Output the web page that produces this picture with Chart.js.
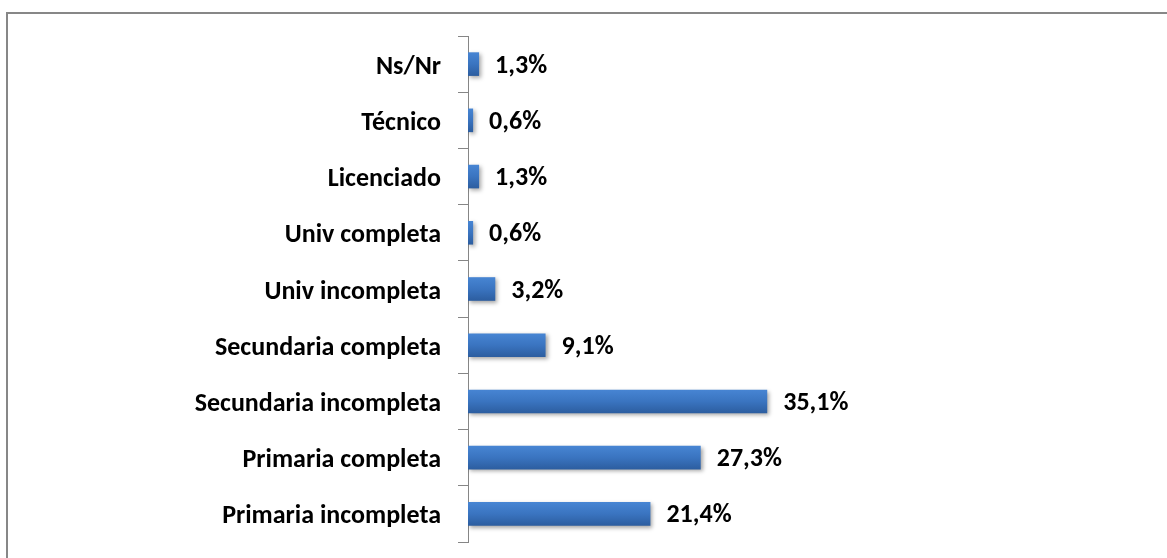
<!DOCTYPE html>
<html>
<head>
<meta charset="utf-8">
<script src="https://cdn.jsdelivr.net/npm/chart.js@4/dist/chart.umd.min.js"></script>
<style>
html,body{margin:0;padding:0;background:#fff;}
#wrap{position:relative;width:1167px;height:558px;}
</style>
</head>
<body>
<div id="wrap"><canvas id="c" width="1167" height="558"></canvas></div>
<script>
const categories = ["Ns/Nr","Técnico","Licenciado","Univ completa","Univ incompleta","Secundaria completa","Secundaria incompleta","Primaria completa","Primaria incompleta"];
const values = [1.3, 0.6, 1.3, 0.6, 3.2, 9.1, 35.1, 27.3, 21.4];
const valueLabels = ["1,3%","0,6%","1,3%","0,6%","3,2%","9,1%","35,1%","27,3%","21,4%"];

const FONT = "Carlito, Calibri, Lato, 'Liberation Sans', sans-serif";
const FONT_SIZE = 26;
const BAR_PCT = 0.42;

const frame = {
  id: 'frame',
  beforeDraw(chart) {
    const c = chart.ctx;
    c.save();
    c.fillStyle = '#fff';
    c.fillRect(0, 0, chart.width, chart.height);
    c.strokeStyle = '#878787';
    c.lineWidth = 2;
    c.strokeRect(7, 13, 1180, 580);
    c.restore();
  }
};

const shadow = {
  id: 'shadow',
  beforeDatasetsDraw(chart) {
    const c = chart.ctx;
    c.save();
    c.shadowColor = 'rgba(0,0,0,0.35)';
    c.shadowBlur = 4;
    c.shadowOffsetX = 2;
    c.shadowOffsetY = 2;
  },
  afterDatasetsDraw(chart) {
    chart.ctx.restore();
    const c = chart.ctx;
    const meta = chart.getDatasetMeta(0);
    c.save();
    c.font = "bold " + FONT_SIZE + "px " + FONT;
    c.fillStyle = '#000';
    c.textBaseline = 'middle';
    c.textAlign = 'left';
    meta.data.forEach((el, i) => {
      c.fillText(valueLabels[i], el.x + 16, el.y + 2);
    });
    c.restore();
  }
};

new Chart(document.getElementById('c'), {
  type: 'bar',
  data: {
    labels: categories,
    datasets: [{
      data: values,
      backgroundColor: (ctx) => {
        const chart = ctx.chart;
        const y = chart.scales && chart.scales.y;
        const area = chart.chartArea;
        if (!y || !area || ctx.dataIndex === undefined) return '#3a73bf';
        const cy = y.getPixelForValue(ctx.dataIndex);
        if (!isFinite(cy)) return '#3a73bf';
        const h = (area.bottom - area.top) / categories.length * BAR_PCT;
        const g = chart.ctx.createLinearGradient(0, cy - h / 2, 0, cy + h / 2);
        g.addColorStop(0, '#4785d3');
        g.addColorStop(0.5, '#3a74c0');
        g.addColorStop(1, '#2c5d9f');
        return g;
      },
      borderWidth: 0,
      barPercentage: BAR_PCT,
      categoryPercentage: 1
    }]
  },
  options: {
    indexAxis: 'y',
    responsive: false,
    animation: false,
    events: [],
    layout: { padding: { top: 36, bottom: 16, left: 0, right: 358 } },
    plugins: { legend: { display: false }, tooltip: { enabled: false } },
    scales: {
      x: {
        display: false,
        min: 0,
        max: 40
      },
      y: {
        afterFit(scale) {
          scale.width = 468;
          scale.paddingTop = 0;
          scale.paddingBottom = 0;
        },
        grid: {
          offset: true,
          drawOnChartArea: false,
          drawTicks: true,
          tickLength: 10,
          color: '#868686',
          lineWidth: 1
        },
        border: { display: true, color: '#868686', width: 1 },
        ticks: {
          padding: 17,
          labelOffset: 3,
          color: '#000',
          font: { family: FONT, size: FONT_SIZE, weight: 'bold' }
        }
      }
    }
  },
  plugins: [frame, shadow]
});
</script>
</body>
</html>
